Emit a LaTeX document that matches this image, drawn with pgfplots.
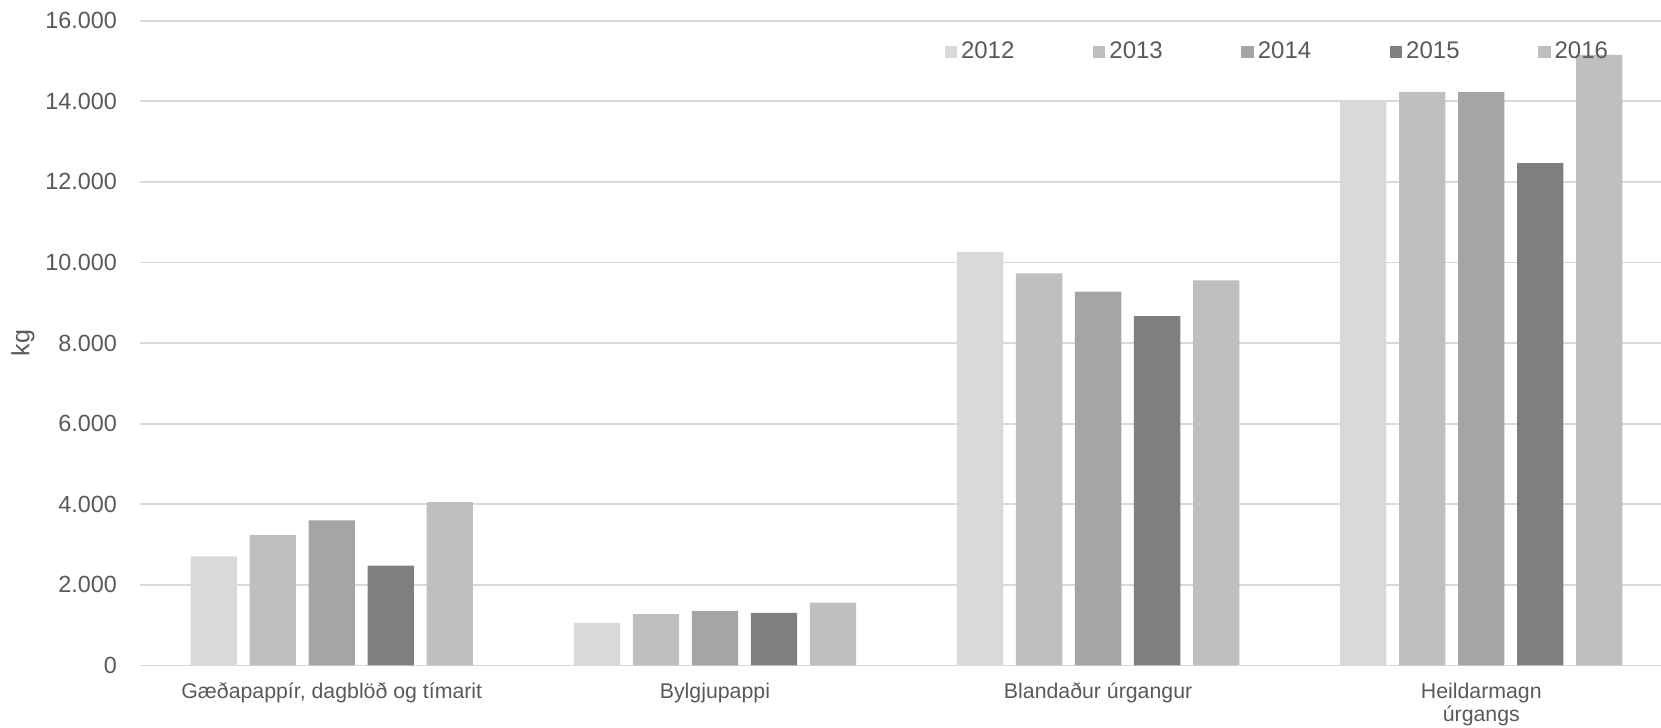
\documentclass[border=0pt]{standalone}
\usepackage{fontspec}
\setmainfont{Liberation Sans}
\usepackage{pgfplots}
\pgfplotsset{compat=1.18}
\definecolor{cA}{HTML}{D9D9D9}
\definecolor{cB}{HTML}{BFBFBF}
\definecolor{cC}{HTML}{A5A5A5}
\definecolor{cD}{HTML}{7F7F7F}
\definecolor{cE}{HTML}{BFBFBF}
\definecolor{gridc}{HTML}{D9D9D9}
\definecolor{txt}{HTML}{595959}
\begin{document}
\begin{tikzpicture}
\useasboundingbox (-70.1pt,-31.25pt) rectangle (760.4pt,332.75pt);
\begin{axis}[
  scale only axis, width=760.4pt, height=322.4pt,
  at={(0,0)}, anchor=south west,
  xmin=-0.5, xmax=3.469, ymin=0, ymax=16000,
  ybar, bar width=0.1208,
  xtick={0,1,2,3},
  xticklabels={{Gæðapappír, dagblöð og tímarit},{Bylgjupappi},{Blandaður úrgangur},{\begin{tabular}[t]{@{}c@{}}Heildarmagn\\úrgangs\end{tabular}}},
  ytick={0,2000,4000,6000,8000,10000,12000,14000,16000},
  scaled y ticks=false,
  /pgf/number format/1000 sep={.},
  /pgf/number format/assume math mode=true,
  ymajorgrids, grid style={draw=gridc, line width=0.9pt},
  axis line style={draw=none}, major tick length=0pt,
  yticklabel style={font=\fontsize{11.7}{14}\selectfont, text=txt, inner sep=0pt, anchor=east, xshift=-11.4pt},
  xticklabel style={font=\fontsize{10.65}{11.7}\selectfont, text=txt, inner sep=0pt, anchor=base, yshift=-16.4pt},
  ylabel={kg},
  ylabel style={font=\fontsize{12.5}{14}\selectfont, text=txt, at={(axis description cs:-0.0771,0.5)}, anchor=center, inner sep=0pt},
  legend columns=5,
  legend image code/.code={\fill[#1] (0pt,-3.1pt) rectangle (6.2pt,3.1pt);},
  legend style={draw=none, fill=none, inner sep=0pt, font=\fontsize{12}{14}\selectfont, text=txt,
    at={(axis description cs:0.5287,0.9515)}, anchor=west,
    /tikz/every even column/.append style={column sep=37.3pt}},
]
\addplot[fill=cA, draw=none, bar shift=-0.308] coordinates {(0,2705) (1,1057) (2,10258) (3,13985)};
\addplot[fill=cB, draw=none, bar shift=-0.154] coordinates {(0,3233) (1,1272) (2,9727) (3,14233)};
\addplot[fill=cC, draw=none, bar shift=0] coordinates {(0,3598) (1,1355) (2,9276) (3,14230)};
\addplot[fill=cD, draw=none, bar shift=0.154] coordinates {(0,2477) (1,1305) (2,8668) (3,12466)};
\addplot[fill=cE, draw=none, bar shift=0.308] coordinates {(0,4055) (1,1561) (2,9554) (3,15150)};
\legend{2012,2013,2014,2015,2016}
\end{axis}
\end{tikzpicture}
\end{document}
